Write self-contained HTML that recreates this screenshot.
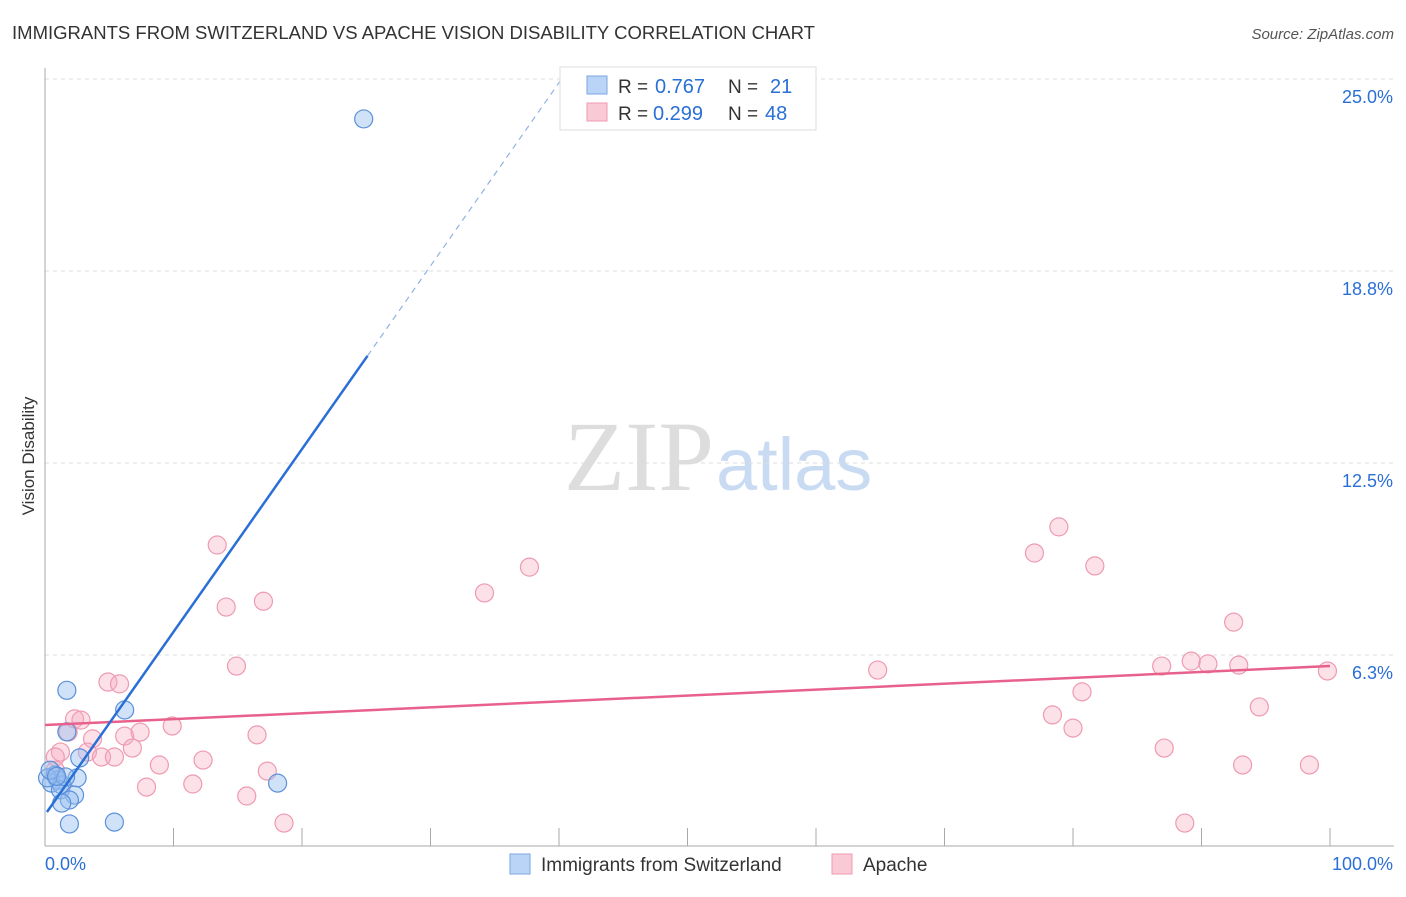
<!DOCTYPE html>
<html><head><meta charset="utf-8"><style>
body{margin:0;background:#fff;font-family:"Liberation Sans",sans-serif;}
</style></head><body>
<svg width="1406" height="892" xmlns="http://www.w3.org/2000/svg" font-family="Liberation Sans, sans-serif">
<text x="12" y="39" font-size="18" fill="#333" textLength="803" lengthAdjust="spacingAndGlyphs">IMMIGRANTS FROM SWITZERLAND VS APACHE VISION DISABILITY CORRELATION CHART</text>
<text x="1394" y="39" font-size="15" fill="#555" text-anchor="end" font-style="italic">Source: ZipAtlas.com</text>
<text x="714" y="490" font-size="100" text-anchor="end" fill="#ddd" font-family="Liberation Serif, serif">ZIP</text>
<text x="716" y="490" font-size="74" fill="#c9dbf3">atlas</text>
<g id="grid"></g>
<g id="axes"></g>
<g id="marks"></g>
<text transform="translate(34,456) rotate(-90)" font-size="17" fill="#333" text-anchor="middle">Vision Disability</text>
<g>
<rect x="560" y="67" width="256" height="63" fill="#fff" stroke="#ddd"/>
<rect x="587" y="76" width="20" height="18" fill="#b9d4f7" stroke="#7aa6e0"/>
<rect x="587" y="103" width="20" height="18" fill="#f9c9d6" stroke="#ee9ab1"/>
<text x="618" y="93" font-size="19" fill="#333">R =</text>
<text x="655" y="93" font-size="20" fill="#2a6fd6">0.767</text>
<text x="728" y="93" font-size="19" fill="#333">N =</text>
<text x="770" y="93" font-size="20" fill="#2a6fd6">21</text>
<text x="618" y="120" font-size="19" fill="#333">R =</text>
<text x="653" y="120" font-size="20" fill="#2a6fd6">0.299</text>
<text x="728" y="120" font-size="19" fill="#333">N =</text>
<text x="765" y="120" font-size="20" fill="#2a6fd6">48</text>
</g>
<g>
<rect x="510" y="854" width="20" height="20" fill="#b9d4f7" stroke="#7aa6e0"/>
<text x="541" y="871" font-size="19" fill="#333">Immigrants from Switzerland</text>
<rect x="832" y="854" width="20" height="20" fill="#f9c9d6" stroke="#ee9ab1"/>
<text x="863" y="871" font-size="19" fill="#333">Apache</text>
</g>
</svg>
<script>
const blueX=[24.8,1.7,6.2,1.7,2.7,2.5,0.8,1.0,0.5,1.3,0.2,1.2,2.3,1.9,1.3,18.1,1.9,5.4,1.6,0.4,0.9];
const blueY=[23.7,5.1,4.46,3.75,2.9,2.25,2.34,2.18,2.08,2.02,2.25,1.86,1.69,1.53,1.43,2.08,0.75,0.81,2.28,2.5,2.3];
const pinkX=[13.4,14.1,17.0,14.9,34.2,37.7,4.9,5.8,2.3,2.8,1.8,3.7,6.2,7.4,9.9,6.8,1.2,0.8,3.3,4.4,5.4,8.9,12.3,16.5,17.3,7.9,11.5,15.7,18.6,64.8,77.0,78.9,81.7,92.5,86.9,89.2,90.5,92.9,99.8,80.7,78.4,80.0,94.5,87.1,93.2,98.4,88.7,0.8];
const pinkY=[9.83,7.81,8.0,5.89,8.27,9.11,5.37,5.31,4.17,4.13,3.74,3.52,3.61,3.74,3.94,3.22,3.09,2.93,3.09,2.93,2.93,2.67,2.83,3.65,2.47,1.95,2.05,1.66,0.78,5.76,9.57,10.42,9.15,7.32,5.89,6.05,5.96,5.92,5.73,5.05,4.30,3.87,4.56,3.22,2.67,2.67,0.78,2.5];
const yTicks=[6.25,12.5,18.75,25];
const yTickLabels=["6.3%","12.5%","18.8%","25.0%"];
const blueTrend=[0.15,1.14,25.1,15.99,40.2];
const pinkTrend=[0,3.97,100,5.89];
const NS="http://www.w3.org/2000/svg";
const sx=v=>45+v*12.85, sy=v=>847-v*30.72;
function mk(t,a,p){const e=document.createElementNS(NS,t);for(const k in a)e.setAttribute(k,a[k]);document.getElementById(p).appendChild(e);return e;}
yTicks.forEach((t,i)=>{
 const l=mk('line',{x1:45,x2:1394,y1:sy(t),y2:sy(t),stroke:'#ddd','stroke-dasharray':'4,4'},'grid');
 
 
 const tx=mk('text',{x:1393,y:sy(t)+24,'font-size':18,fill:'#2a6fd6','text-anchor':'end'},'axes');
 tx.textContent=yTickLabels[i];
 
 
});
let a=mk('line',{x1:45,x2:45,y1:68,y2:846,stroke:'#aaa'},'axes');


a=mk('line',{x1:45,x2:1394,y1:846,y2:846,stroke:'#aaa'},'axes');


for(let i=1;i<=10;i++){const t=mk('line',{x1:sx(i*10),x2:sx(i*10),y1:828,y2:846,stroke:'#aaa'},'axes');
 
 }
let xl=mk('text',{x:45,y:870,'font-size':18,fill:'#2a6fd6'},'axes');xl.textContent='0.0%';


xl=mk('text',{x:1393,y:870,'font-size':18,fill:'#2a6fd6','text-anchor':'end'},'axes');xl.textContent='100.0%';


pinkX.forEach((x,i)=>{const c=mk('circle',{cx:sx(x),cy:sy(pinkY[i]),r:9,fill:'rgba(246,170,192,0.35)',stroke:'#ee9ab1','stroke-width':1.2},'marks');
 
 });
blueX.forEach((x,i)=>{const c=mk('circle',{cx:sx(x),cy:sy(blueY[i]),r:9,fill:'rgba(150,190,240,0.45)',stroke:'#5b90da','stroke-width':1.2},'marks');
 
 });
let t=mk('line',{x1:sx(pinkTrend[0]),y1:sy(pinkTrend[1]),x2:sx(pinkTrend[2]),y2:sy(pinkTrend[3]),stroke:'#e8618c','stroke-width':2.5},'marks');


t=mk('line',{x1:sx(blueTrend[0]),y1:sy(blueTrend[1]),x2:sx(blueTrend[2]),y2:sy(blueTrend[3]),stroke:'#2a6fd6','stroke-width':2.5},'marks');


t=mk('line',{x1:sx(blueTrend[2]),y1:sy(blueTrend[3]),x2:sx(blueTrend[4]),y2:sy(25),stroke:'#8fb2e3','stroke-width':1.2,'stroke-dasharray':'6,5'},'marks');


</script>
</body></html>
